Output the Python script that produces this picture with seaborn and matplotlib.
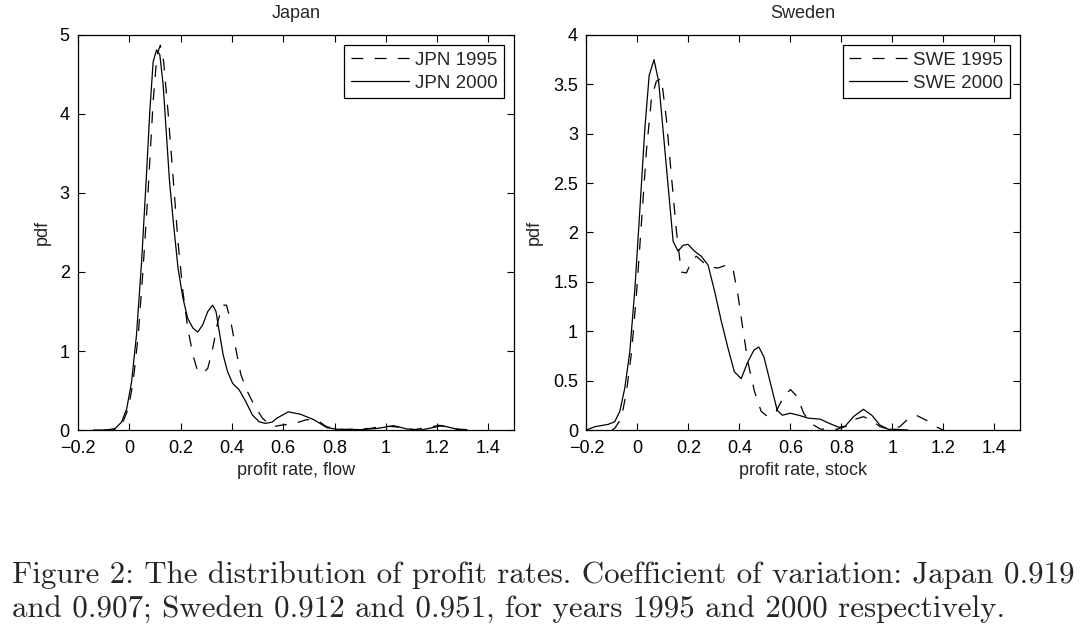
import numpy as np
import pandas as pd
import matplotlib
matplotlib.use("Agg")
import matplotlib.pyplot as plt
import seaborn as sns

# ---------------- data ----------------
jpn2000_x = [-0.14, -0.088, -0.055, -0.03, -0.01, 0.009, 0.028, 0.048, 0.067, 0.08, 0.093, 0.106,
             0.119, 0.132, 0.145, 0.157, 0.173, 0.19, 0.209, 0.228, 0.248, 0.267, 0.286, 0.306,
             0.325, 0.338, 0.351, 0.366, 0.383, 0.403, 0.428, 0.454, 0.48, 0.506, 0.53, 0.557,
             0.575, 0.62, 0.667, 0.72, 0.77, 0.81, 0.90, 0.966, 1.03, 1.083, 1.135, 1.19, 1.22,
             1.246, 1.29]
jpn2000_y = [0.0, 0.0, 0.02, 0.1, 0.27, 0.61, 1.2, 2.13, 3.23, 4.03, 4.66, 4.81,
             4.75, 4.37, 3.73, 3.14, 2.59, 2.05, 1.67, 1.41, 1.29, 1.24, 1.33, 1.50,
             1.58, 1.50, 1.24, 0.95, 0.74, 0.59, 0.51, 0.36, 0.19, 0.105, 0.084, 0.1,
             0.15, 0.23, 0.20, 0.13, 0.03, 0.01, 0.005, 0.02, 0.055, 0.013, 0.0, 0.035, 0.055,
             0.035, 0.0]

jpn1995_x = [-0.10, -0.062, -0.03, -0.004, 0.015, 0.035, 0.054, 0.074, 0.093, 0.108, 0.121, 0.134,
             0.151, 0.17, 0.19, 0.209, 0.228, 0.248, 0.267, 0.286, 0.306, 0.325, 0.345, 0.364,
             0.379, 0.396, 0.415, 0.435, 0.46, 0.486, 0.519, 0.557, 0.59, 0.64, 0.69, 0.73,
             0.77, 0.836, 0.94, 0.99, 1.04, 1.11, 1.17, 1.21, 1.25, 1.29, 1.34]
jpn1995_y = [0.0, 0.0, 0.06, 0.27, 0.61, 1.2, 2.05, 3.06, 4.16, 4.75, 4.87, 4.66,
             4.03, 3.23, 2.38, 1.75, 1.29, 0.95, 0.74, 0.72, 0.78, 1.03, 1.37, 1.58,
             1.58, 1.37, 1.03, 0.70, 0.49, 0.32, 0.15, 0.04, 0.06, 0.08, 0.13, 0.13,
             0.04, 0.005, 0.02, 0.05, 0.04, 0.005, 0.035, 0.06, 0.02, 0.01, 0.0]

swe2000_x = [-0.2, -0.167, -0.115, -0.089, -0.069, -0.05, -0.03, -0.01, 0.009, 0.029, 0.046,
             0.065, 0.083, 0.1, 0.12, 0.14, 0.159, 0.179, 0.198, 0.224, 0.25, 0.277, 0.303,
             0.329, 0.355, 0.38, 0.407, 0.431, 0.457, 0.476, 0.496, 0.522, 0.548, 0.568, 0.6,
             0.632, 0.67, 0.717, 0.75, 0.79, 0.815, 0.847, 0.886, 0.919, 0.951, 0.984, 1.016,
             1.06]
swe2000_y = [0.0, 0.034, 0.057, 0.084, 0.19, 0.42, 0.79, 1.43, 2.21, 3.05, 3.59,
             3.75, 3.53, 3.05, 2.48, 1.91, 1.81, 1.87, 1.88, 1.81, 1.76, 1.67, 1.40,
             1.10, 0.83, 0.59, 0.52, 0.68, 0.81, 0.84, 0.74, 0.47, 0.20, 0.15, 0.17,
             0.15, 0.12, 0.11, 0.07, 0.027, 0.04, 0.135, 0.21, 0.15, 0.05, 0.007, 0.007,
             0.0]

swe1995_x = [-0.1, -0.089, -0.063, -0.043, -0.023, -0.004, 0.016, 0.035, 0.055, 0.074, 0.094,
             0.113, 0.133, 0.153, 0.172, 0.192, 0.211, 0.231, 0.257, 0.283, 0.316, 0.348,
             0.374, 0.394, 0.413, 0.433, 0.459, 0.485, 0.511, 0.544, 0.574, 0.6, 0.626, 0.652,
             0.678, 0.717, 0.782, 0.821, 0.854, 0.886, 0.919, 0.951, 0.99, 1.029, 1.06, 1.093,
             1.132, 1.166, 1.198]
swe1995_y = [0.0, 0.017, 0.12, 0.39, 0.79, 1.37, 2.11, 2.82, 3.36, 3.53, 3.56,
             3.16, 2.58, 2.01, 1.60, 1.59, 1.70, 1.76, 1.70, 1.65, 1.64, 1.67,
             1.64, 1.37, 1.03, 0.69, 0.39, 0.19, 0.135, 0.19, 0.34, 0.41, 0.34, 0.17,
             0.07, 0.01, 0.007, 0.04, 0.11, 0.135, 0.10, 0.034, 0.007, 0.034, 0.11, 0.15,
             0.10, 0.04, 0.0]

panel_titles = ["Japan", "Sweden"]
x_labels = ["profit rate, flow", "profit rate, stock"]
legend_labels = [["JPN 1995", "JPN 2000"], ["SWE 1995", "SWE 2000"]]
caption_lines = ["Figure 2: The distribution of profit rates. Coefficient of variation: Japan 0.919",
                 "and 0.907; Sweden 0.912 and 0.951, for years 1995 and 2000 respectively."]

# ---------------- styling ----------------
sns.set_theme(style="ticks")
plt.rcParams['font.family'] = ['Liberation Sans', 'DejaVu Sans']
plt.rcParams['axes.unicode_minus'] = True

fig = plt.figure(figsize=(10.8, 6.35), dpi=100)
ax1 = fig.add_axes([0.0722, 0.3228, 0.4038, 0.6222])
ax2 = fig.add_axes([0.5430, 0.3228, 0.4014, 0.6222])

panels = [
    (ax1, jpn1995_x, jpn1995_y, jpn2000_x, jpn2000_y, [0, 1, 2, 3, 4, 5], ["0", "1", "2", "3", "4", "5"], 5, -0.062),
    (ax2, swe1995_x, swe1995_y, swe2000_x, swe2000_y, [0, 0.5, 1, 1.5, 2, 2.5, 3, 3.5, 4],
     ["0", "0.5", "1", "1.5", "2", "2.5", "3", "3.5", "4"], 4, -0.100),
]
xticks = [-0.2, 0, 0.2, 0.4, 0.6, 0.8, 1.0, 1.2, 1.4]
xtick_labels = ["\u22120.2", "0", "0.2", "0.4", "0.6", "0.8", "1", "1.2", "1.4"]

for i, (ax, x95, y95, x00, y00, yt, ytl, ymax, ylab_x) in enumerate(panels):
    df95 = pd.DataFrame({"x": x95, "y": y95})
    df00 = pd.DataFrame({"x": x00, "y": y00})
    sns.lineplot(data=df95, x="x", y="y", ax=ax, color="black", lw=0.9,
                 sort=False, estimator=None, label=legend_labels[i][0])
    ax.lines[-1].set_linestyle((0, (9.5, 9)))
    sns.lineplot(data=df00, x="x", y="y", ax=ax, color="black", lw=0.9,
                 sort=False, estimator=None, label=legend_labels[i][1])
    ax.set_xlim(-0.2, 1.5)
    ax.set_ylim(0, ymax)
    ax.set_xticks(xticks)
    ax.set_xticklabels(xtick_labels)
    ax.set_yticks(yt)
    ax.set_yticklabels(ytl)
    ax.tick_params(direction="in", top=True, right=True, length=5, width=0.8,
                   labelsize=13, colors="black")
    ax.tick_params(axis="x", pad=7)
    ax.tick_params(axis="y", pad=6)
    for s in ax.spines.values():
        s.set_visible(True)
        s.set_color("black")
        s.set_linewidth(0.9)
    ax.set_title(panel_titles[i], fontsize=13, pad=12)
    ax.set_xlabel(x_labels[i], fontsize=13, labelpad=4)
    ax.set_ylabel("pdf", fontsize=13)
    ax.yaxis.set_label_coords(ylab_x, 0.5)
    leg = ax.legend(loc="upper right", fontsize=13.5, frameon=True, fancybox=False,
                    edgecolor="black", framealpha=1, handlelength=3.1, handletextpad=0.3,
                    borderpad=0.35, labelspacing=0.3, borderaxespad=0.55)
    leg.get_frame().set_linewidth(0.9)

for line, ybase in zip(caption_lines, [1 - 583 / 635, 1 - 618 / 635]):
    fig.text(0.011, ybase, line, fontsize=22.3, family=['cmr10', 'DejaVu Serif'],
             ha="left", va="baseline")

fig.savefig("out.png", dpi=100, facecolor="white")
